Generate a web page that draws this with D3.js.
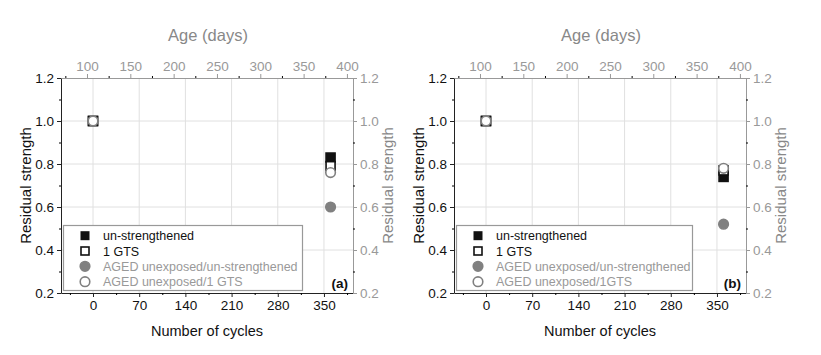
<!DOCTYPE html>
<html>
<head>
<meta charset="utf-8">
<script src="https://cdn.jsdelivr.net/npm/d3@7"></script>
<style>
  body { margin: 0; background: #fff; }
  svg { display: block; font-family: "Liberation Sans", Arial, sans-serif; }
</style>
</head>
<body>
<svg id="chart" width="821" height="355"></svg>
<script>
// data
var cycles = [0, 360];
var cycleTicks = [0, 70, 140, 210, 280, 350];
var ageTicks = [100, 150, 200, 250, 300, 350, 400];
var strengthTicks = [0.2, 0.4, 0.6, 0.8, 1.0, 1.2];

var a_unstrengthened = [1.0, 0.83];
var a_gts = [1.0, 0.79];
var a_agedUnstr = [1.0, 0.60];
var a_agedGts = [1.0, 0.76];

var b_unstrengthened = [1.0, 0.74];
var b_gts = [1.0, 0.77];
var b_agedUnstr = [1.0, 0.52];
var b_agedGts = [1.0, 0.78];

var legendA = ["un-strengthened", "1 GTS", "AGED unexposed/un-strengthened", "AGED unexposed/1 GTS"];
var legendB = ["un-strengthened", "1 GTS", "AGED unexposed/un-strengthened", "AGED unexposed/1GTS"];

var black = "#111", grey = "#808080", gridC = "#e0e0e0";

var svg = d3.select("#chart");

function drawPanel(ox, series, labels, tag, legendW){
  var left = 61, right = 353, top = 78, bottom = 293;
  var g = svg.append("g").attr("transform", "translate(" + ox + ",0)");

  var x = d3.scaleLinear().domain([-48.5, 394]).range([left, right]);
  var xTop = d3.scaleLinear().domain([70, 407]).range([left, right]);
  var y = d3.scaleLinear().domain([0.2, 1.2]).range([bottom, top]);

  // grid
  g.append("g").selectAll("line").data(cycleTicks).enter().append("line")
    .attr("x1", d => x(d)).attr("x2", d => x(d)).attr("y1", top).attr("y2", bottom)
    .attr("stroke", gridC).attr("stroke-width", 1);
  g.append("g").selectAll("line").data([0.4, 0.6, 0.8, 1.0]).enter().append("line")
    .attr("y1", d => y(d)).attr("y2", d => y(d)).attr("x1", left).attr("x2", right)
    .attr("stroke", gridC).attr("stroke-width", 1);

  // axes (major + minor ticks)
  var bottomAxis = g.append("g").attr("transform", "translate(0," + bottom + ")")
    .call(d3.axisBottom(x).tickValues(cycleTicks).tickSize(4).tickPadding(3).tickSizeOuter(0));
  g.append("g").attr("transform", "translate(0," + bottom + ")")
    .call(d3.axisBottom(x).tickValues(d3.range(-35, 394, 70)).tickSize(2).tickFormat("").tickSizeOuter(0))
    .select(".domain").remove();

  var topAxis = g.append("g").attr("transform", "translate(0," + top + ")")
    .call(d3.axisTop(xTop).tickValues(ageTicks).tickSize(4).tickPadding(3).tickSizeOuter(0));
  g.append("g").attr("transform", "translate(0," + top + ")")
    .call(d3.axisTop(xTop).tickValues(d3.range(75, 407, 50)).tickSize(2).tickFormat("").tickSizeOuter(0))
    .select(".domain").remove();

  var leftAxis = g.append("g").attr("transform", "translate(" + left + ",0)")
    .call(d3.axisLeft(y).tickValues(strengthTicks).tickFormat(d3.format(".1f")).tickSize(4).tickPadding(3).tickSizeOuter(0));
  g.append("g").attr("transform", "translate(" + left + ",0)")
    .call(d3.axisLeft(y).tickValues([0.3, 0.5, 0.7, 0.9, 1.1]).tickSize(2).tickFormat("").tickSizeOuter(0))
    .select(".domain").remove();

  var rightAxis = g.append("g").attr("transform", "translate(" + right + ",0)")
    .call(d3.axisRight(y).tickValues(strengthTicks).tickFormat(d3.format(".1f")).tickSize(4).tickPadding(3).tickSizeOuter(0));
  g.append("g").attr("transform", "translate(" + right + ",0)")
    .call(d3.axisRight(y).tickValues([0.3, 0.5, 0.7, 0.9, 1.1]).tickSize(2).tickFormat("").tickSizeOuter(0))
    .select(".domain").remove();

  [bottomAxis, leftAxis].forEach(function(a){
    a.selectAll("path,line").attr("stroke", "#222");
    a.selectAll("text").attr("fill", "#111").style("font-size", "13.5px").style("font-family", "Liberation Sans, Arial, sans-serif");
  });
  [topAxis, rightAxis].forEach(function(a){
    a.selectAll("path,line").attr("stroke", "#999");
    a.selectAll("text").attr("fill", "#999").style("font-size", "13.5px").style("font-family", "Liberation Sans, Arial, sans-serif");
  });

  // axis titles
  g.append("text").attr("x", (left + right) / 2 + 1).attr("y", 41).attr("text-anchor", "middle")
    .attr("fill", "#888").style("font-size", "16.5px").text("Age (days)");
  g.append("text").attr("x", (left + right) / 2).attr("y", 336).attr("text-anchor", "middle")
    .attr("fill", "#111").style("font-size", "14.5px").text("Number of cycles");
  g.append("text").attr("transform", "translate(31," + ((top + bottom) / 2) + ") rotate(-90)")
    .attr("text-anchor", "middle").attr("fill", "#111").style("font-size", "15px").text("Residual strength");
  g.append("text").attr("transform", "translate(393," + ((top + bottom) / 2) + ") rotate(-90)")
    .attr("text-anchor", "middle").attr("fill", "#888").style("font-size", "15px").text("Residual strength");

  // points
  function squares(vals, fill){
    g.append("g").selectAll("rect").data(vals).enter().append("rect")
      .attr("x", (d, i) => x(cycles[i]) - 4.5).attr("y", d => y(d) - 4.5)
      .attr("width", 9).attr("height", 9)
      .attr("fill", fill).attr("stroke", black).attr("stroke-width", 1.6);
  }
  function circles(vals, fill){
    g.append("g").selectAll("circle").data(vals).enter().append("circle")
      .attr("cx", (d, i) => x(cycles[i])).attr("cy", d => y(d)).attr("r", 4.8)
      .attr("fill", fill).attr("stroke", grey).attr("stroke-width", 1.6);
  }
  squares(series[0], black);
  squares(series[1], "#fff");
  circles(series[2], grey);
  circles(series[3], "#fff");

  // legend
  var lg = g.append("g");
  lg.append("rect").attr("x", left + 2.5).attr("y", 225.5).attr("width", legendW).attr("height", 65)
    .attr("fill", "#fff").attr("stroke", "#999").attr("stroke-width", 1.2);
  var rowY = [235.7, 251, 266.3, 281.7];
  var mx = left + 24;
  lg.append("rect").attr("x", mx - 4.5).attr("y", rowY[0] - 4.5).attr("width", 9).attr("height", 9).attr("fill", black);
  lg.append("rect").attr("x", mx - 4).attr("y", rowY[1] - 4).attr("width", 8).attr("height", 8)
    .attr("fill", "#fff").attr("stroke", black).attr("stroke-width", 1.6);
  lg.append("circle").attr("cx", mx).attr("cy", rowY[2]).attr("r", 4.8).attr("fill", grey).attr("stroke", grey).attr("stroke-width", 1.6);
  lg.append("circle").attr("cx", mx).attr("cy", rowY[3]).attr("r", 4.8).attr("fill", "#fff").attr("stroke", grey).attr("stroke-width", 1.6);
  lg.selectAll("text.lab").data(labels).enter().append("text").attr("class", "lab")
    .attr("x", mx + 18).attr("y", (d, i) => rowY[i] + 4.5)
    .attr("fill", (d, i) => i < 2 ? "#111" : "#999").style("font-size", "12.5px").text(d => d);

  g.append("text").attr("x", right - 5).attr("y", 288).attr("text-anchor", "end")
    .attr("fill", "#111").style("font-size", "13.5px").style("font-weight", "bold").text(tag);
}

drawPanel(0, [a_unstrengthened, a_gts, a_agedUnstr, a_agedGts], legendA, "(a)", 239);
drawPanel(393, [b_unstrengthened, b_gts, b_agedUnstr, b_agedGts], legendB, "(b)", 236);
</script>
</body>
</html>
